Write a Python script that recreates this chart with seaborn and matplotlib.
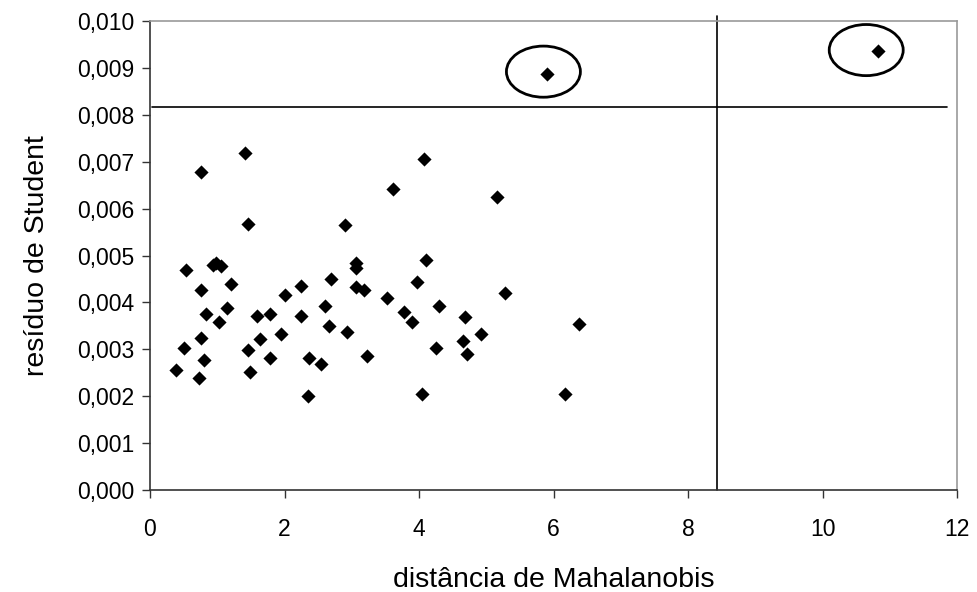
import matplotlib
matplotlib.use("Agg")
import matplotlib.pyplot as plt
from matplotlib.patches import Ellipse
import seaborn as sns
import pandas as pd

# ---- data ----
mahalanobis = [0.38, 0.50, 0.53, 0.73, 0.76, 0.76, 0.76, 0.80, 0.83, 0.94,
               0.98, 1.06, 1.03, 1.15, 1.21, 1.42, 1.45, 1.45, 1.48, 1.59,
               1.63, 1.78, 1.78, 1.95, 2.01, 2.24, 2.24, 2.35, 2.37, 2.54,
               2.60, 2.66, 2.69, 2.90, 2.93, 3.07, 3.07, 3.07, 3.18, 3.23,
               3.52, 3.61, 3.77, 3.89, 3.97, 4.08, 4.11, 4.05, 4.29, 4.26,
               4.68, 4.65, 4.71, 4.92, 5.16, 5.28, 6.17, 6.38, 5.91, 10.82]
residuo = [0.00256, 0.00303, 0.00470, 0.00239, 0.00679, 0.00426, 0.00325, 0.00278, 0.00376, 0.00479,
           0.00484, 0.00478, 0.00358, 0.00388, 0.00439, 0.00718, 0.00567, 0.00299, 0.00252, 0.00371,
           0.00321, 0.00376, 0.00281, 0.00333, 0.00415, 0.00435, 0.00371, 0.00201, 0.00282, 0.00269,
           0.00393, 0.00350, 0.00449, 0.00564, 0.00337, 0.00484, 0.00473, 0.00433, 0.00427, 0.00286,
           0.00410, 0.00641, 0.00380, 0.00358, 0.00444, 0.00705, 0.00491, 0.00205, 0.00393, 0.00303,
           0.00368, 0.00317, 0.00291, 0.00333, 0.00624, 0.00419, 0.00205, 0.00355, 0.00888, 0.00936]

# reference lines and circled outliers
h_line_y = 0.00817
v_line_x = 8.43
circle_x = [5.85, 10.65]
circle_y = [0.00892, 0.00938]

x_ticks = [0, 2, 4, 6, 8, 10, 12]
y_ticks = [0.000, 0.001, 0.002, 0.003, 0.004, 0.005, 0.006, 0.007, 0.008, 0.009, 0.010]
y_tick_labels = ["0,000", "0,001", "0,002", "0,003", "0,004", "0,005",
                 "0,006", "0,007", "0,008", "0,009", "0,010"]

df = pd.DataFrame({"x": mahalanobis, "y": residuo})

sns.set_theme(style="white")
plt.rcParams["font.family"] = ["Liberation Sans", "DejaVu Sans"]

fig = plt.figure(figsize=(9.77, 5.92), dpi=100)
# plot area: x 150..957 px, y 21..490 px
ax = fig.add_axes([150 / 977, 1 - 490 / 592, 807 / 977, 469 / 592])

sns.scatterplot(data=df, x="x", y="y", marker="D", color="black",
                s=52, linewidth=0, ax=ax, zorder=3)

# reference lines
ax.plot([0.03, 11.85], [h_line_y, h_line_y], color="black", lw=1.2, zorder=2)
ax.plot([v_line_x, v_line_x], [0, 0.0101], color="black", lw=1.2,
        zorder=2, clip_on=False)

# circles around outliers
for cx, cy in zip(circle_x, circle_y):
    ax.add_patch(Ellipse((cx, cy), width=1.10, height=0.00109, fill=False,
                         edgecolor="black", lw=2.0, zorder=4))

ax.set_xlim(0, 12)
ax.set_ylim(0, 0.010)
ax.set_xticks(x_ticks)
ax.set_xticklabels([str(t) for t in x_ticks])
ax.set_yticks(y_ticks)
ax.set_yticklabels(y_tick_labels)

ax.tick_params(axis="both", which="major", labelsize=16.5, length=6,
               width=1.0, color="#333333", direction="out",
               bottom=True, left=True, labelcolor="black")
ax.tick_params(axis="x", pad=14)
ax.tick_params(axis="y", pad=5)

for side in ["left", "bottom"]:
    ax.spines[side].set_color("#333333")
    ax.spines[side].set_linewidth(1.2)
for side in ["top", "right"]:
    ax.spines[side].set_color("#999999")
    ax.spines[side].set_linewidth(1.2)

ax.set_xlabel("distância de Mahalanobis", fontsize=20.5, labelpad=19, color="black")
ax.set_ylabel("resíduo de Student", fontsize=20.5, labelpad=20, color="black")

fig.savefig("out.png", dpi=100)
